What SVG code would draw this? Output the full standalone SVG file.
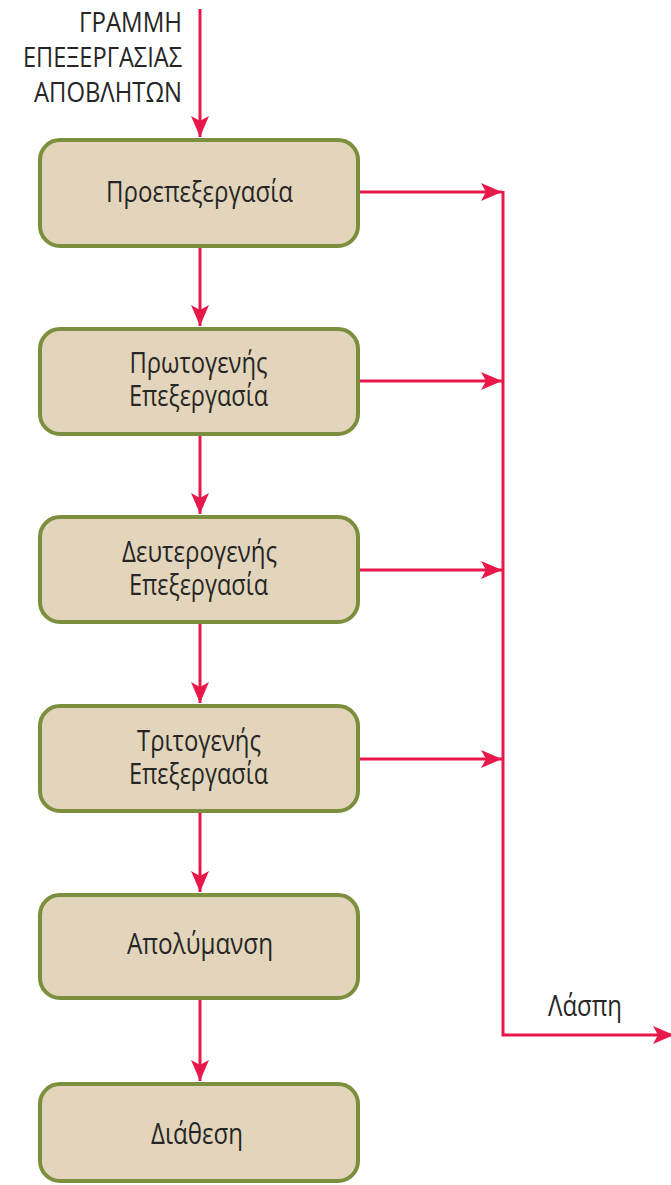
<svg xmlns="http://www.w3.org/2000/svg" width="671" height="1185" viewBox="0 0 671 1185">
<defs>
<marker id="ah" markerUnits="userSpaceOnUse" markerWidth="22" markerHeight="20" viewBox="0 0 22 20" refX="21" refY="10" orient="auto">
<path d="M0,1 L21,10 L0,19 L5,10 Z" fill="#e8194a"/>
</marker>
</defs>
<style>
.box{fill:#e2d5bb;stroke:#7b8f3e;stroke-width:4}
.t{font-family:"Open Sans","Liberation Sans",sans-serif;font-size:29px;fill:#262626;text-anchor:middle}
.h{font-family:"Open Sans","Liberation Sans",sans-serif;font-size:28px;fill:#262626;text-anchor:end}
.c{fill:none;stroke:#e8194a;stroke-width:3}
</style>
<rect width="671" height="1185" fill="#ffffff"/>
<g id="title">
<text class="h" x="182" y="32" textLength="103" lengthAdjust="spacingAndGlyphs">ΓΡΑΜΜΗ</text>
<text class="h" x="182" y="67" textLength="159" lengthAdjust="spacingAndGlyphs">ΕΠΕΞΕΡΓΑΣΙΑΣ</text>
<text class="h" x="182" y="102" textLength="148" lengthAdjust="spacingAndGlyphs">ΑΠΟΒΛΗΤΩΝ</text>
</g>
<g id="connectors">
<line class="c" x1="200" y1="9" x2="200" y2="137" marker-end="url(#ah)"/>
<line class="c" x1="200" y1="248" x2="200" y2="326" marker-end="url(#ah)"/>
<line class="c" x1="200" y1="435" x2="200" y2="514" marker-end="url(#ah)"/>
<line class="c" x1="200" y1="624" x2="200" y2="703" marker-end="url(#ah)"/>
<line class="c" x1="200" y1="813" x2="200" y2="892" marker-end="url(#ah)"/>
<line class="c" x1="200" y1="1000" x2="200" y2="1081" marker-end="url(#ah)"/>
<line class="c" x1="358" y1="192" x2="502" y2="192" marker-end="url(#ah)"/>
<line class="c" x1="358" y1="381" x2="502" y2="381" marker-end="url(#ah)"/>
<line class="c" x1="358" y1="570" x2="502" y2="570" marker-end="url(#ah)"/>
<line class="c" x1="358" y1="759" x2="502" y2="759" marker-end="url(#ah)"/>
<polyline class="c" points="503,191 503,1035 674,1035" marker-end="url(#ah)"/>
</g>
<g id="label-laspi">
<text class="t" x="585" y="1016" textLength="74" lengthAdjust="spacingAndGlyphs">Λάσπη</text>
</g>
<g id="n1">
<rect class="box" x="40" y="140" width="318" height="106" rx="20"/>
<text class="t" x="199.5" y="202" textLength="187" lengthAdjust="spacingAndGlyphs">Προεπεξεργασία</text>
</g>
<g id="n2">
<rect class="box" x="40" y="329" width="318" height="105" rx="20"/>
<text class="t" x="198.5" y="373" textLength="138" lengthAdjust="spacingAndGlyphs">Πρωτογενής</text>
<text class="t" x="198.5" y="406" textLength="139" lengthAdjust="spacingAndGlyphs">Επεξεργασία</text>
</g>
<g id="n3">
<rect class="box" x="40" y="517" width="318" height="105" rx="20"/>
<text class="t" x="199.5" y="562" textLength="155" lengthAdjust="spacingAndGlyphs">Δευτερογενής</text>
<text class="t" x="198.5" y="595" textLength="139" lengthAdjust="spacingAndGlyphs">Επεξεργασία</text>
</g>
<g id="n4">
<rect class="box" x="40" y="706" width="318" height="105" rx="20"/>
<text class="t" x="199" y="751" textLength="124" lengthAdjust="spacingAndGlyphs">Τριτογενής</text>
<text class="t" x="198.5" y="784" textLength="139" lengthAdjust="spacingAndGlyphs">Επεξεργασία</text>
</g>
<g id="n5">
<rect class="box" x="40" y="895" width="318" height="103" rx="20"/>
<text class="t" x="200" y="954" textLength="146" lengthAdjust="spacingAndGlyphs">Απολύμανση</text>
</g>
<g id="n6">
<rect class="box" x="40" y="1084" width="318" height="97" rx="20"/>
<text class="t" x="197" y="1144" textLength="92" lengthAdjust="spacingAndGlyphs">Διάθεση</text>
</g>
</svg>
